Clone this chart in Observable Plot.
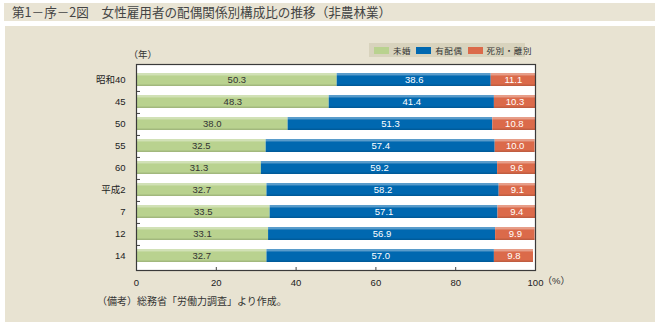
<!DOCTYPE html>
<html><head><meta charset="utf-8">
<script src="https://cdn.jsdelivr.net/npm/d3@7"></script>
<script src="https://cdn.jsdelivr.net/npm/@observablehq/plot@0.6"></script>
<style>
html,body{margin:0;padding:0;background:#fff;}
#wrap{position:relative;width:663px;height:328px;overflow:hidden;font-family:"Noto Sans CJK JP","Liberation Sans",sans-serif;}
.abs{position:absolute;}
#titlebar{left:4px;top:3px;width:651px;height:18px;background:#e9e4d4;}
#title{left:12px;top:3px;font-size:12.6px;line-height:18px;color:#444;white-space:nowrap;}
#panel{left:5px;top:26px;width:650px;height:296px;background:#e8e3d2;}
#legend{left:369px;top:43px;width:156px;height:14px;background:#d8d3bd;font-size:8.5px;line-height:14px;color:#333;white-space:nowrap;letter-spacing:0.6px;}
.sw{display:inline-block;width:15px;height:7px;margin:0 4px 0 5px;vertical-align:middle;position:relative;top:-1px;}
#caption{left:97px;top:293px;font-size:10px;color:#333;white-space:nowrap;}
#chart{left:0;top:0;}
</style></head>
<body>
<div id="wrap">
  <div id="titlebar" class="abs"></div>
  <div id="title" class="abs">第1－序－2図　女性雇用者の配偶関係別構成比の推移（非農林業）</div>
  <div id="panel" class="abs"></div>
  <div id="chart" class="abs"></div>
  <div id="legend" class="abs"></div>
  <div id="caption" class="abs">（備考）総務省「労働力調査」より作成。</div>
</div>
<script>
const years = ["昭和40","45","50","55","60","平成2","7","12","14"];
const seriesNames = ["未婚","有配偶","死別・離別"];
const unmarried = [50.3,48.3,38.0,32.5,31.3,32.7,33.5,33.1,32.7];
const married   = [38.6,41.4,51.3,57.4,59.2,58.2,57.1,56.9,57.0];
const widowed   = [11.1,10.3,10.8,10.0,9.6,9.1,9.4,9.9,9.8];
const xTicks = [0,20,40,60,80,100];
const colors = ["#b9d28f","#0068b0","#db6a4a"];

const valuesBySeries = [unmarried, married, widowed];
const data = [];
years.forEach((y,i) => seriesNames.forEach((s,k) => data.push({year:y, series:s, value:valuesBySeries[k][i]})));

const W=663, H=328, mL=136, mR=128, mT=64, mB=58;
const pad = 0.43;
const step = (H-mT-mB)/years.length;
const bw = step*(1-pad);
const fmt = v => v.toFixed(1);
const font = "'Liberation Sans','Noto Sans CJK JP',sans-serif";

const chart = Plot.plot({
  width: W, height: H,
  marginLeft: mL, marginRight: mR, marginTop: mT, marginBottom: mB,
  style: {background:"transparent", fontFamily: font, fontSize:"9.5px", color:"#222"},
  x: {domain:[0,100], ticks: xTicks, label: null},
  y: {domain: years, paddingInner: pad, paddingOuter: pad/2, label: null},
  color: {domain: seriesNames, range: colors},
  marks: [
    Plot.frame({fill:"white", stroke:"none"}),
    Plot.barX(data, {x:"value", y:"year", z:"series", fill:"series"}),
    Plot.barX(data, {x:"value", y:"year", z:"series", fill:"white", fillOpacity:0.35, insetBottom: bw-2.5}),
    Plot.barX(data, {x:"value", y:"year", z:"series", fill:"black", fillOpacity:0.12, insetTop: bw-1.5}),
    Plot.text(data, Plot.stackX({x:"value", y:"year", z:"series", text: d => d.series===seriesNames[0] ? fmt(d.value) : "", fill:"#333", fontSize:9.5})),
    Plot.text(data, Plot.stackX({x:"value", y:"year", z:"series", text: d => d.series===seriesNames[0] ? "" : fmt(d.value), fill:"white", fontSize:9.5})),
    Plot.axisY({tickSize:0, tickPadding:11, label:null, fill:"#222"}),
    Plot.ruleY(years.slice(0,-1), {x1:0, x2:1, dy: step/2, stroke:"#444"}),
    Plot.axisX({tickSize:0, tickPadding:9, label:null, fill:"#222"}),
    Plot.ruleX(xTicks.slice(1,-1), {insetTop:(H-mT-mB)-3, stroke:"#444"}),
    Plot.frame({stroke:"#3a3a3a", strokeWidth:1.2}),
    Plot.text(["（年）"], {frameAnchor:"top-left", dy:-13, dx:-8, text:d=>d, fontSize:9.5, fill:"#333", textAnchor:"start"}),
    Plot.text(["（%）"], {frameAnchor:"bottom-right", dy:13, dx:7, text:d=>d, fontSize:9.5, fill:"#333", textAnchor:"start"})
  ]
});
document.getElementById("chart").appendChild(chart);

const lg = document.getElementById("legend");
seriesNames.forEach((s,k) => {
  const sw = document.createElement("span"); sw.className="sw"; sw.style.background = colors[k];
  const t = document.createElement("span"); t.textContent = s;
  lg.appendChild(sw); lg.appendChild(t);
});
</script>
</body></html>
